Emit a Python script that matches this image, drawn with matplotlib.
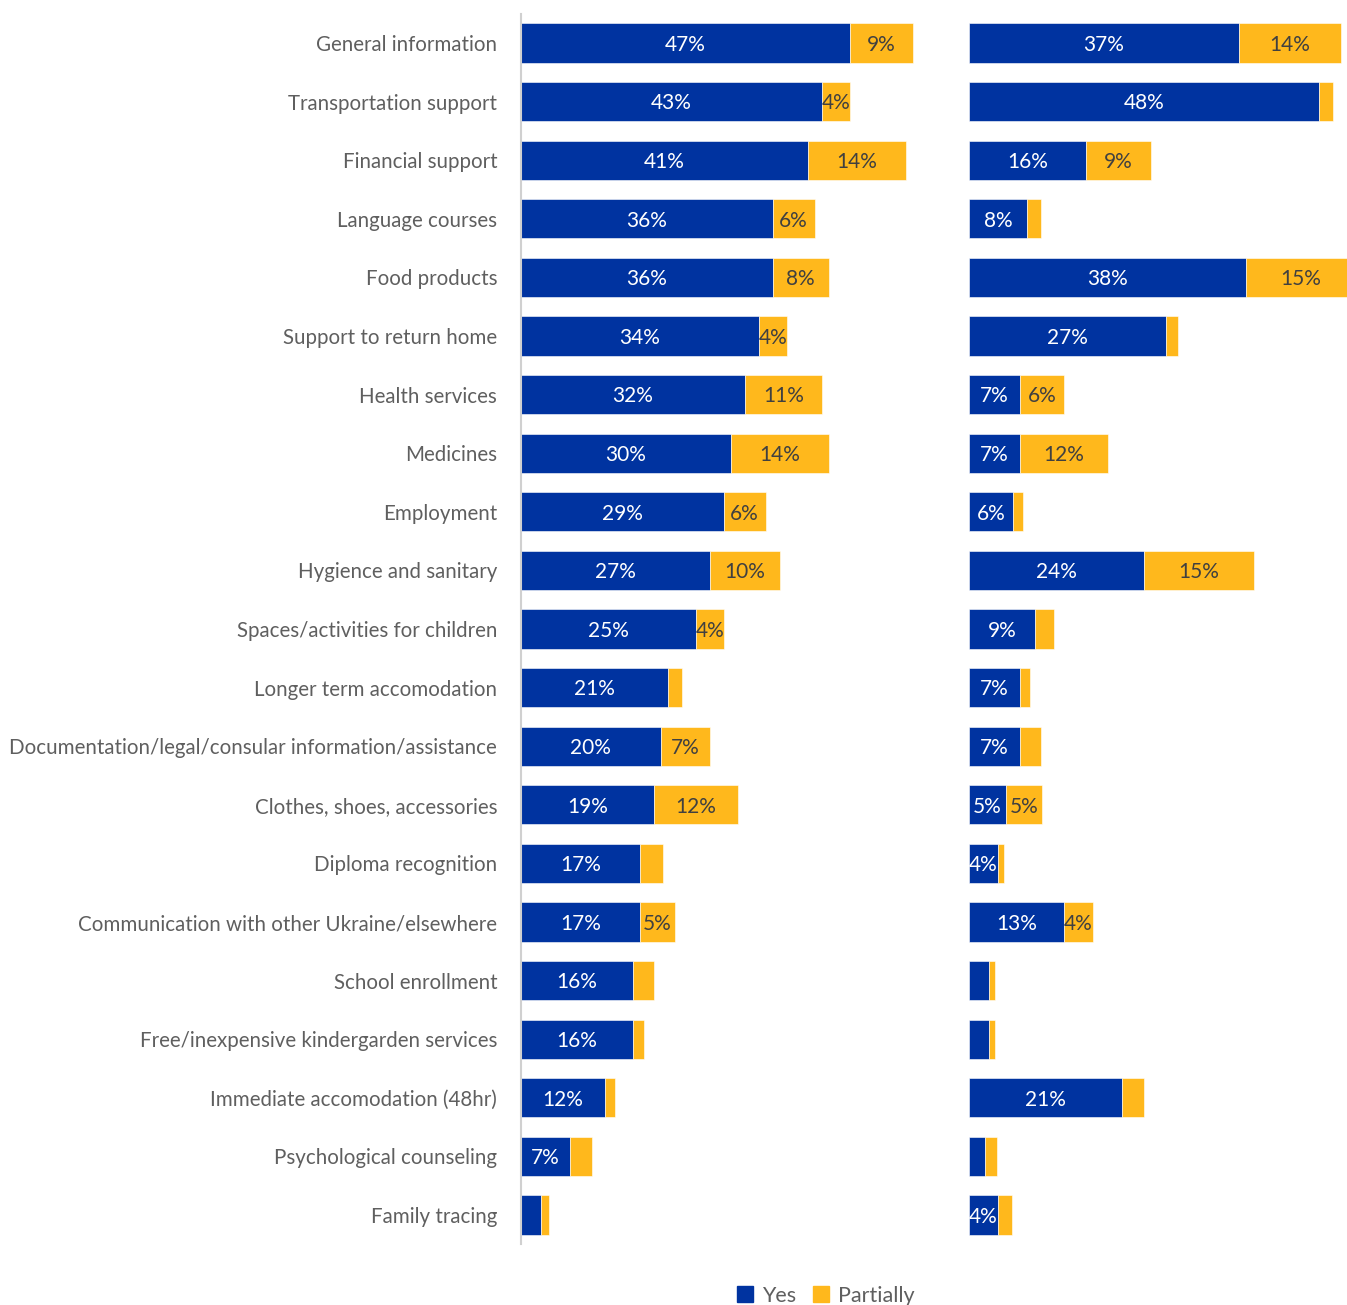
import matplotlib.pyplot as plt
from matplotlib.patches import Patch

# Categories, top to bottom
categories = [
    "General information", "Transportation support", "Financial support",
    "Language courses", "Food products", "Support to return home",
    "Health services", "Medicines", "Employment", "Hygience and sanitary",
    "Spaces/activities for children", "Longer term accomodation",
    "Documentation/legal/consular information/assistance",
    "Clothes, shoes, accessories", "Diploma recognition",
    "Communication with other Ukraine/elsewhere", "School enrollment",
    "Free/inexpensive kindergarden services", "Immediate accomodation (48hr)",
    "Psychological counseling", "Family tracing",
]

# left group
yes_left = [47, 43, 41, 36, 36, 34, 32, 30, 29, 27, 25, 21, 20, 19, 17, 17, 16, 16, 12, 7, 2.9]
part_left = [9, 4, 14, 6, 8, 4, 11, 14, 6, 10, 4, 2, 7, 12, 3.3, 5, 3, 1.6, 1.4, 3.2, 1.1]

# right group
yes_right = [37, 48, 16, 8, 38, 27, 7, 7, 6, 24, 9, 7, 7, 5, 4, 13, 2.8, 2.8, 21, 2.2, 4]
part_right = [14, 1.9, 9, 1.9, 15, 1.6, 6, 12, 1.4, 15, 2.7, 1.3, 2.9, 5, 0.8, 4, 0.7, 0.8, 3, 1.7, 1.9]

legend_labels = ["Yes", "Partially"]

BLUE = "#0033a0"
YELLOW = "#ffb81c"
GREY = "#5f5f5f"
FONT = ["Lato", "DejaVu Sans"]

plt.rcParams['font.family'] = FONT

fig = plt.figure(figsize=(13.47, 13.05), dpi=100)
ax1 = fig.add_axes([0.3866, 0.0465, 0.3118, 0.943])
ax2 = fig.add_axes([0.7194, 0.0465, 0.2806, 0.943])

y = list(range(len(categories)))


def draw(ax, yes, part, xmax):
    ax.barh(y, yes, height=0.67, color=BLUE, edgecolor="white", linewidth=0.4)
    ax.barh(y, part, left=yes, height=0.67, color=YELLOW, edgecolor="white", linewidth=0.4)
    for i in y:
        if round(yes[i]) >= 4:
            ax.text(yes[i] / 2, i + 0.03, f"{round(yes[i])}%", ha="center", va="center",
                    color="white", fontsize=15)
        if round(part[i]) >= 4:
            ax.text(yes[i] + part[i] / 2, i + 0.03, f"{round(part[i])}%", ha="center",
                    va="center", color="#404040", fontsize=15)
    ax.set_xlim(0, xmax)
    ax.set_ylim(len(categories) - 0.5, -0.5)
    ax.set_xticks([])
    for s in ["top", "right", "bottom", "left"]:
        ax.spines[s].set_visible(False)


draw(ax1, yes_left, part_left, 60)
draw(ax2, yes_right, part_right, 51.8)

# category names on the left panel, thin grey axis line
ax1.set_yticks(y)
ax1.set_yticklabels(categories, fontsize=14.8, color=GREY)
ax1.tick_params(axis="y", length=0, pad=17)
ax1.spines["left"].set_visible(True)
ax1.spines["left"].set_color("#d0d0d0")
ax1.spines["left"].set_linewidth(1.5)
ax2.set_yticks([])

handles = [Patch(color=BLUE), Patch(color=YELLOW)]
fig.legend(handles, legend_labels, loc="center", bbox_to_anchor=(0.613, 0.007),
           ncol=2, frameon=False, fontsize=15.5, handlelength=0.75, handleheight=0.75,
           handletextpad=0.4, columnspacing=0.8, labelcolor=GREY)

plt.savefig("out.png", dpi=100)
